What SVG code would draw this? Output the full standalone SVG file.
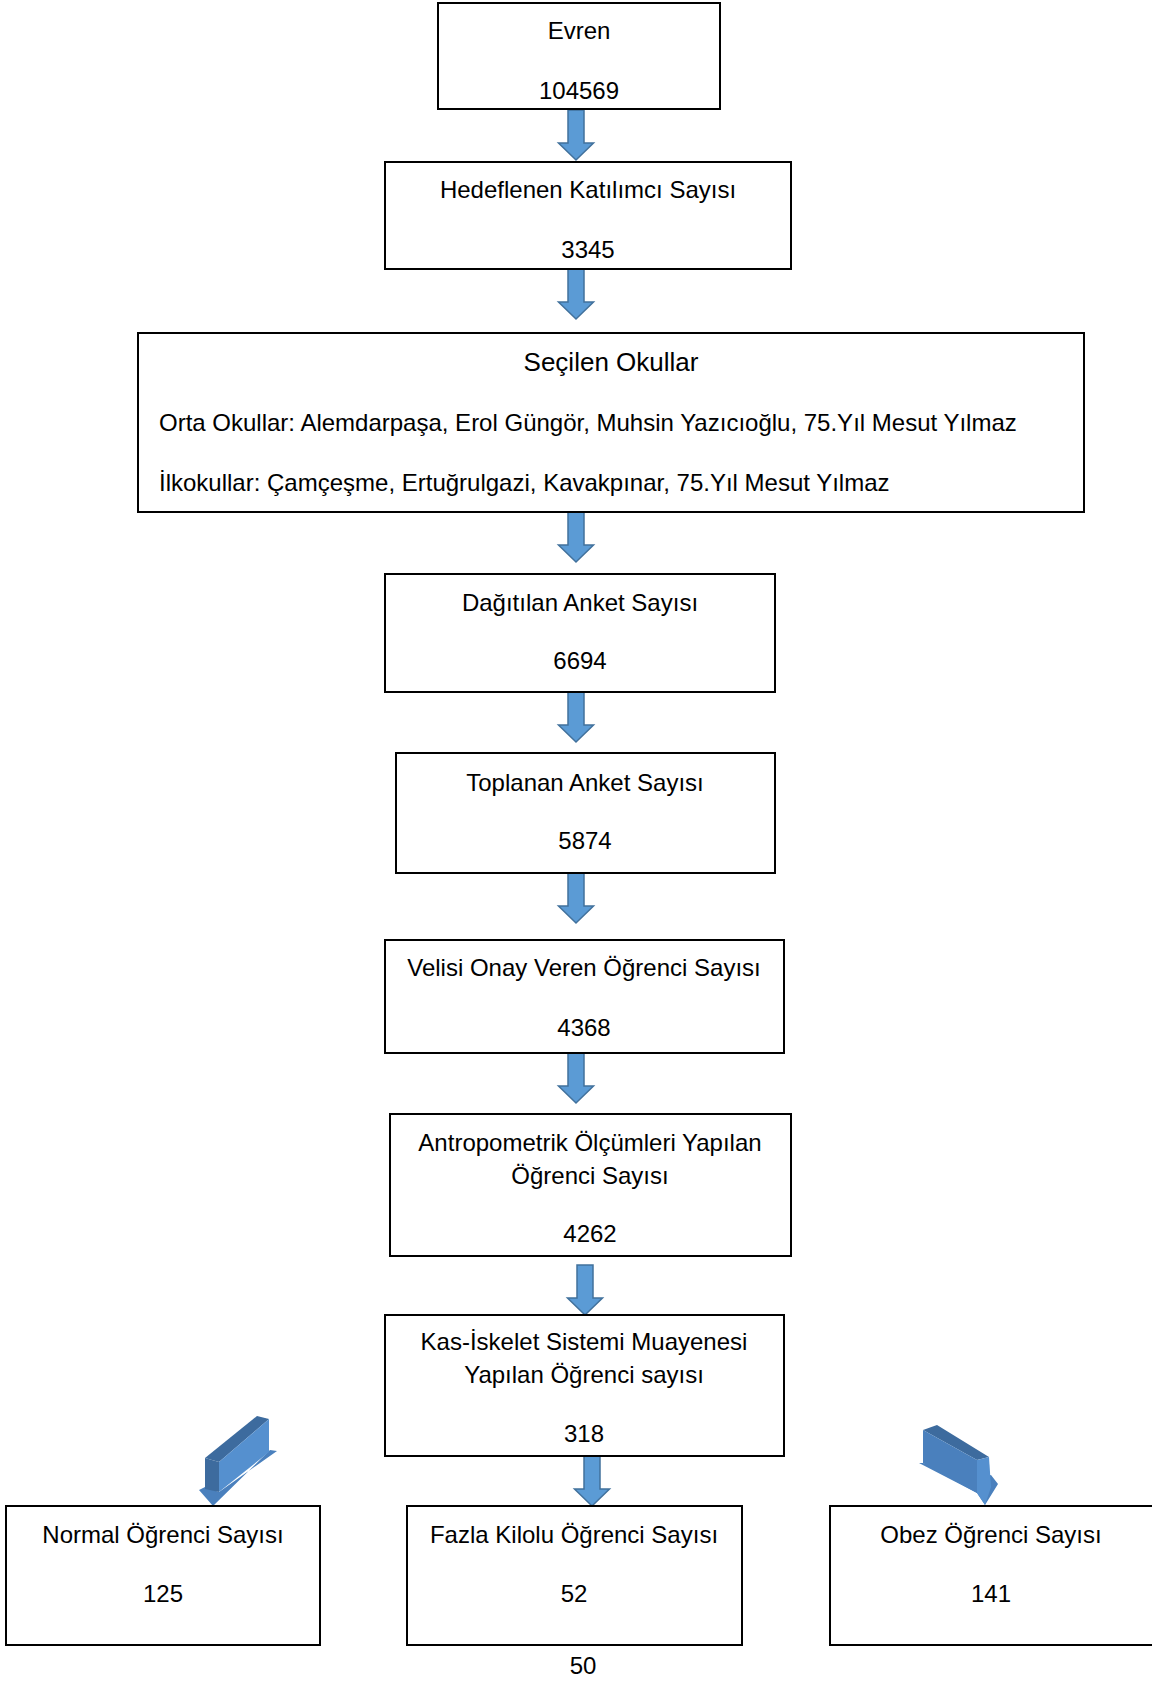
<svg xmlns="http://www.w3.org/2000/svg" width="1152" height="1681" viewBox="0 0 1152 1681">
<style>
.box{fill:#fff;stroke:#000;stroke-width:2}
text{font-family:"Liberation Sans",Arial,sans-serif;font-size:24px;fill:#000}
.c{text-anchor:middle}
.t{font-size:26px}
.arr{fill:#5b9bd5;stroke:#41719c;stroke-width:1.5}
.d{fill:#3d6b9e}
.m{fill:#4a80bd}
.l{fill:#5590cf}
</style>
<defs>
<path id="ar" class="arr" d="M-8,0 H8 V33 H17.5 L0,50 L-17.5,33 H-8 Z"/>
</defs>
<g id="connectors">
<use href="#ar" transform="translate(576,110)"/>
<use href="#ar" transform="translate(576,269)"/>
<use href="#ar" transform="translate(576,512)"/>
<use href="#ar" transform="translate(576,692)"/>
<use href="#ar" transform="translate(576,873)"/>
<use href="#ar" transform="translate(576,1053)"/>
<use href="#ar" transform="translate(585,1265)"/>
<use href="#ar" transform="translate(592,1456)"/>
<g id="arrow3d-left">
<polygon class="m" points="199,1490 205,1487 219,1492 277,1451 270,1450 213,1506"/>
<polygon class="d" points="205,1458 257,1416 269,1419 219,1462"/>
<polygon class="d" points="205,1458 219,1462 219,1492 205,1489"/>
<polygon class="l" points="219,1462 269,1419 269,1452 219,1492"/>
</g>
<g id="arrow3d-right">
<polygon class="m" points="919,1463 923,1463 977,1478 991,1475 998,1484 985,1505 977,1493"/>
<polygon class="d" points="923,1430 937,1425 989,1457 977,1460"/>
<polygon class="m" points="923,1430 977,1460 977,1493 923,1463"/>
<polygon class="l" points="977,1460 989,1457 991,1487 985,1505 977,1493"/>
</g>
</g>
<g id="n1"><rect class="box" x="438" y="3" width="282" height="106"/>
<text class="c" x="579" y="39">Evren</text><text class="c" x="579" y="99">104569</text></g>
<g id="n2"><rect class="box" x="385" y="162" width="406" height="107"/>
<text class="c" x="588" y="198">Hedeflenen Katılımcı Sayısı</text><text class="c" x="588" y="258">3345</text></g>
<g id="n3"><rect class="box" x="138" y="333" width="946" height="179"/>
<text class="c t" x="611" y="371">Seçilen Okullar</text>
<text x="159" y="431">Orta Okullar: Alemdarpaşa, Erol Güngör, Muhsin Yazıcıoğlu, 75.Yıl Mesut Yılmaz</text>
<text x="159" y="491">İlkokullar: Çamçeşme, Ertuğrulgazi, Kavakpınar, 75.Yıl Mesut Yılmaz</text></g>
<g id="n4"><rect class="box" x="385" y="574" width="390" height="118"/>
<text class="c" x="580" y="611">Dağıtılan Anket Sayısı</text><text class="c" x="580" y="669">6694</text></g>
<g id="n5"><rect class="box" x="396" y="753" width="379" height="120"/>
<text class="c" x="585" y="791">Toplanan Anket Sayısı</text><text class="c" x="585" y="849">5874</text></g>
<g id="n6"><rect class="box" x="385" y="940" width="399" height="113"/>
<text class="c" x="584" y="976">Velisi Onay Veren Öğrenci Sayısı</text><text class="c" x="584" y="1036">4368</text></g>
<g id="n7"><rect class="box" x="390" y="1114" width="401" height="142"/>
<text class="c" x="590" y="1151">Antropometrik Ölçümleri Yapılan</text><text class="c" x="590" y="1184">Öğrenci Sayısı</text><text class="c" x="590" y="1242">4262</text></g>
<g id="n8"><rect class="box" x="385" y="1315" width="399" height="141"/>
<text class="c" x="584" y="1350">Kas-İskelet Sistemi Muayenesi</text><text class="c" x="584" y="1383">Yapılan Öğrenci sayısı</text><text class="c" x="584" y="1442">318</text></g>
<g id="n9"><rect class="box" x="6" y="1506" width="314" height="139"/>
<text class="c" x="163" y="1543">Normal Öğrenci Sayısı</text><text class="c" x="163" y="1602">125</text></g>
<g id="n10"><rect class="box" x="407" y="1506" width="335" height="139"/>
<text class="c" x="574" y="1543">Fazla Kilolu Öğrenci Sayısı</text><text class="c" x="574" y="1602">52</text></g>
<g id="n11"><rect class="box" x="830" y="1506" width="330" height="139"/>
<text class="c" x="991" y="1543">Obez Öğrenci Sayısı</text><text class="c" x="991" y="1602">141</text></g>
<text class="c" x="583" y="1674">50</text>
</svg>
